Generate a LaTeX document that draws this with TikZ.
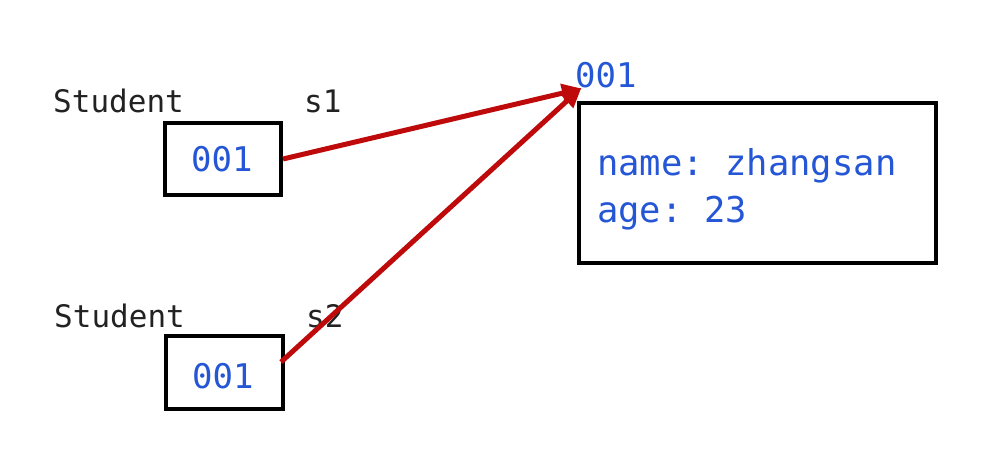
\documentclass[tikz,border=0pt]{standalone}
\usepackage{fontspec}
\setmonofont{DejaVu Sans Mono}
\usetikzlibrary{arrows.meta}
\definecolor{txtblue}{HTML}{2456D6}
\definecolor{arrred}{HTML}{BE0A0A}
\definecolor{txtblack}{HTML}{222222}
\tikzset{
  lbl/.style={anchor=base west, inner sep=0pt, text=txtblack, font=\ttfamily\fontsize{31}{37}\selectfont},
  val/.style={anchor=base west, inner sep=0pt, text=txtblue, font=\ttfamily\fontsize{34}{40}\selectfont},
  field/.style={anchor=base west, inner sep=0pt, text=txtblue, font=\ttfamily\fontsize{35.5}{42}\selectfont},
  refbox/.style={draw=black, line width=4pt, inner sep=0pt},
  ref/.style={draw=arrred, line width=5pt, -{Triangle[length=20pt,width=18pt]}, shorten >=-2pt},
}
\begin{document}
\begin{tikzpicture}[x=1pt,y=-1pt]
\fill[white] (0,0) rectangle (988,456);
\useasboundingbox (0,0) rectangle (988,456);
% left side
\node[lbl] (t1) at (53,112) {Student};
\node[lbl] (n1) at (304,112) {s1};
\node[lbl] (t2) at (54,327) {Student};
\node[lbl] (n2) at (306,327) {s2};
\node[refbox, minimum width=116pt, minimum height=72pt] (b1) at (223,159) {};
\node[refbox, minimum width=117pt, minimum height=73pt] (b2) at (224.5,372.5) {};
\node[val] (v1) at (191,171) {001};
\node[val] (v2) at (192,388) {001};
% object
\node[refbox, minimum width=357pt, minimum height=160pt] (obj) at (757.5,183) {};
\node[val] (addr) at (575,87) {001};
\node[field] (f1) at (597,175) {name: zhangsan};
\node[field] (f2) at (597,222) {age: 23};
\coordinate (tip) at (580,89);
\coordinate (s2start) at (281,362);
% references
\draw[ref] (b1.east) -- (tip);
\draw[ref] (s2start) -- (tip);
\end{tikzpicture}
\end{document}
